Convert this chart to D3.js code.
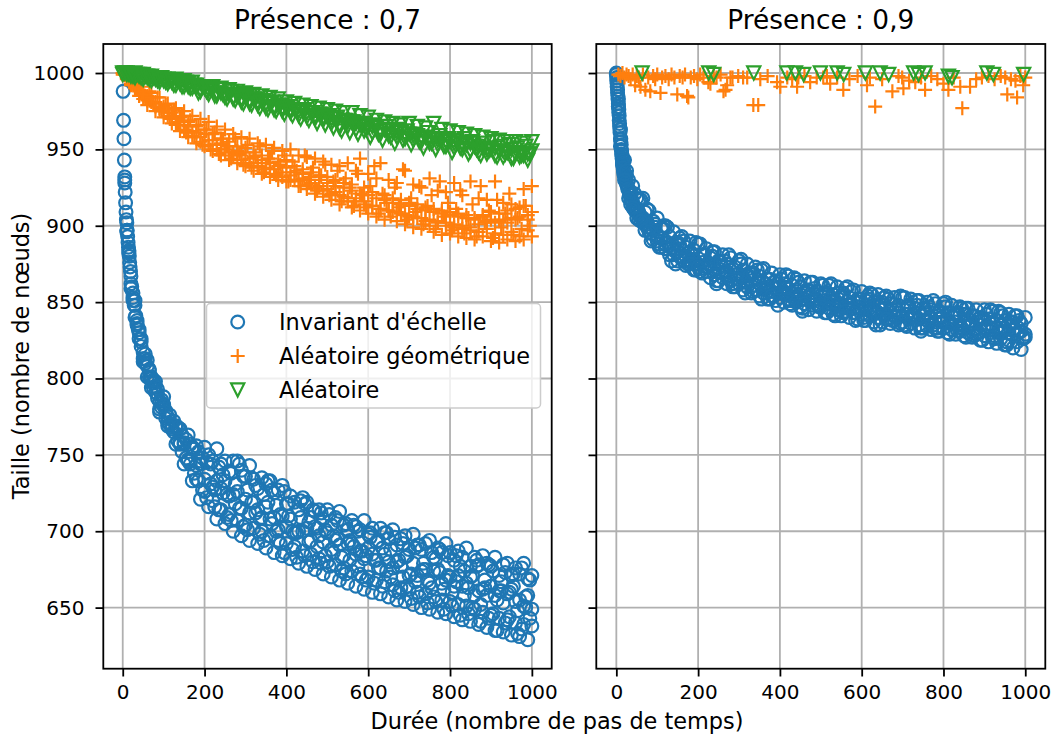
<!DOCTYPE html>
<html><head><meta charset="utf-8">
<script src="https://cdn.jsdelivr.net/npm/d3@7"></script>
<style>
body{margin:0;background:#fff}
svg{display:block}
text{font-family:"DejaVu Sans",sans-serif;fill:#000}
</style>
</head><body>
<svg id="chart" width="1054" height="740"></svg>
<script>
// ---------- data ----------
const steps = [0,10,20,30,40,50,60,70,80,90,100,110,120,130,140,150,160,170,180,190,200,210,220,230,240,250,260,270,280,290,300,310,320,330,340,350,360,370,380,390,400,410,420,430,440,450,460,470,480,490,500,510,520,530,540,550,560,570,580,590,600,610,620,630,640,650,660,670,680,690,700,710,720,730,740,750,760,770,780,790,800,810,820,830,840,850,860,870,880,890,900,910,920,930,940,950,960,970,980,990,1000];
const halfSteps = [5,15,25,35,45,55,65,75,85,95,105,115,125,135,145,155,165,175,185,195,205,215,225,235,245,255,265,275,285,295,305,315,325,335,345,355,365,375,385,395,405,415,425,435,445,455,465,475,485,495,505,515,525,535,545,555,565,575,585,595,605,615,625,635,645,655,665,675,685,695,705,715,725,735,745,755,765,775,785,795,805,815,825,835,845,855,865,875,885,895,905,915,925,935,945,955,965,975,985,995];
const seriesNames = ["Invariant d'échelle","Aléatoire géométrique","Aléatoire"];
const xTicks = [0,200,400,600,800,1000];
const yTicks = [650,700,750,800,850,900,950,1000];
const panelTitles = ["Présence : 0,7","Présence : 0,9"];

// Présence 0,7 — Invariant d'échelle
const leftScaleFreeEarlyT = [1,2,3,4,5,6,7,8,9,11,12,13,14,15,16,17,18,19,22,25,28,32,35,38,45,55,65,75,85,95];
const leftScaleFreeEarlyV = [988,969,957,943,932,922,915,909,904,897,893,889,886,883,880,876,873,870,860,853,848,841,836,832,824,813,805,797,790,784];
const leftScaleFreeA = [902,862,851,830,813,812,801,798,785,788,
775,767,769,767,757,763,755,756,746,755,
750,746,754,744,746,739,746,746,740,736,
743,734,728,735,731,733,725,727,730,718,
723,719,714,722,719,709,713,714,708,714,
704,709,713,704,701,707,703,701,707,698,
702,693,702,699,695,701,691,695,697,688,
698,691,688,692,694,683,689,686,692,686,
681,687,683,689,677,683,678,684,679,677,
683,671,678,679,671,676,672,679,669,671];
const leftScaleFreeB = [897,859,848,826,817,801,800,791,778,783,
771,768,768,757,758,747,754,743,744,734,
738,729,733,728,733,723,724,726,715,721,
712,719,714,709,716,708,709,701,710,703,
708,699,700,700,702,694,703,697,693,699,
688,694,691,684,692,692,685,687,682,689,
685,681,676,685,680,676,680,677,683,671,
679,671,674,675,666,674,675,666,668,670,
664,671,664,666,670,658,661,662,658,664,
658,661,653,659,662,654,655,651,658,649];
const leftScaleFreeC = [896,867,840,832,811,808,794,795,780,782,
769,770,757,758,744,746,733,734,721,726,
716,720,708,714,705,711,700,707,697,704,
694,702,692,700,689,697,686,694,684,692,
682,690,679,687,677,685,675,682,672,680,
670,678,668,676,666,674,664,672,662,670,
660,668,659,667,657,665,655,663,654,662,
652,660,650,659,649,657,647,655,646,654,
644,652,642,651,641,649,639,647,637,645,
635,643,634,642,632,640,631,639,629,638];
const leftScaleFreeD = [930,882,856,835,826,810,806,794,793,781,
779,770,772,759,763,748,757,738,752,727,
745,731,716,742,725,709,738,718,744,703,
727,735,712,698,724,733,705,717,692,726,
710,688,699,720,684,706,714,690,679,701,
711,686,695,674,705,681,690,700,670,684,
696,666,676,689,699,670,661,681,692,664,
672,689,657,679,668,686,654,673,662,684,
651,667,677,658,646,671,681,652,663,643,
674,655,667,640,660,672,648,636,657,668];
const leftScaleFreeE = [928,884,851,838,821,816,801,799,787,786,
774,776,765,768,752,760,744,754,733,748,
722,744,727,714,737,724,707,731,715,736,
701,719,730,708,694,719,727,700,711,686,
718,700,683,709,718,693,680,702,712,684,
677,697,707,683,672,694,704,677,687,668,
699,681,694,664,674,688,696,660,670,684,
656,667,691,675,653,663,682,688,649,671,
660,684,645,674,663,650,677,641,668,678,
646,635,661,673,644,664,633,676,650,643];

// Présence 0,7 — Aléatoire géométrique
const leftGeoA = [1000,999,995,994,989,991,985,987,981,984,
978,980,974,977,971,975,968,972,965,970,
963,968,960,965,957,963,955,960,952,958,
951,957,948,954,946,953,944,951,942,949,
943,950,939,946,937,945,935,944,933,942,
932,940,930,939,928,941,927,936,944,925,
934,922,931,941,920,930,918,928,917,936,
915,927,914,925,912,931,911,923,910,922,
909,928,908,920,907,929,905,918,906,917,
904,929,903,915,902,914,904,912,924,907,
926];
const leftGeoB = [999,996,992,990,985,983,979,981,975,977,
971,974,967,970,962,966,958,962,954,958,
952,956,949,953,946,950,943,948,941,946,
939,944,936,941,934,938,932,937,930,935,
929,933,930,926,931,924,928,921,926,919,
924,917,922,914,919,916,912,918,910,916,
908,913,906,911,904,910,909,903,908,901,
906,899,905,898,903,900,896,902,894,900,
895,899,893,898,892,897,891,896,893,898,
890,895,889,894,891,896,890,893,891,897,
893];
const leftGeoC = [1000,997,993,991,988,986,982,984,978,976,
975,972,971,966,968,963,965,959,961,955,
960,953,956,950,954,948,952,946,949,943,
948,941,945,939,943,937,941,934,939,932,
938,930,935,929,934,927,932,925,930,923,
928,921,926,920,925,918,923,916,921,914,
920,913,918,911,917,910,915,909,914,907,
913,906,911,905,910,904,909,903,908,902,
907,901,906,900,905,899,904,901,907,903,
909,902,908,904,910,905,911,906,913,904,
909];
const leftGeoD = [999,995,996,990,988,984,988,980,984,975,
979,970,976,966,972,961,969,958,966,953,
963,950,961,947,957,952,944,957,947,940,
953,938,946,952,935,944,949,933,940,946,
929,942,936,926,946,930,938,923,933,940,
920,929,936,916,931,925,913,934,920,912,
926,939,908,921,915,906,925,912,937,904,
918,909,926,901,913,920,898,929,906,915,
897,911,923,895,905,914,893,926,902,910,
892,917,899,908,921,894,905,898,913,900];

// Présence 0,7 — Aléatoire
const leftRandA = [1000,1000,999,1000,998,999,997,998,996,997,
995,996,994,996,993,995,991,994,990,988,
991,989,991,987,990,986,989,984,988,983,
987,982,986,981,985,980,984,978,983,977,
981,976,980,975,979,974,978,972,977,971,
976,970,975,964,974,968,974,967,972,966,
971,965,969,962,968,963,967,961,966,960,
967,959,965,958,964,957,967,956,963,955,
962,954,961,953,960,954,959,952,958,950,
957,951,956,949,955,950,955,948,954,947,
955];
const leftRandB = [999,999,998,997,999,996,998,995,997,994,
996,993,995,992,994,991,993,990,992,989,
990,986,989,985,987,984,986,983,985,981,
984,980,983,979,981,977,980,976,979,975,
977,974,976,972,975,971,974,970,973,969,
971,967,970,966,969,965,968,963,966,962,
965,961,964,960,963,959,962,958,961,957,
960,956,959,955,958,954,957,953,956,952,
955,951,954,950,953,949,952,948,951,947,
950,946,949,945,948,944,947,945,946,943,
949];
const leftRandC = [1000,999,998,999,997,998,996,997,995,997,
994,995,992,995,991,994,990,992,987,991,
988,990,985,989,986,983,988,982,986,980,
985,979,983,977,982,976,981,975,979,973,
978,972,976,970,976,969,974,967,973,966,
972,964,971,962,969,961,968,960,967,963,
958,966,960,956,965,958,954,963,956,962,
953,960,955,951,961,954,950,959,952,957,
948,956,951,957,947,955,950,946,954,949,
955,945,952,947,953,944,951,946,952,947];

// Présence 0,9 — Invariant d'échelle
const rightScaleFreeEarlyT = [0,1,2,3,4,5,6,7,8,9,11,12,13,14,15,16,17,18,19,22,25,28,32,35,38,45,55,65,75];
const rightScaleFreeEarlyA = [1000,997,993,989,985,980,976,972,967,963,955,950,947,944,941,939,937,935,933,930,927,924,921,918,916,911,907,903,899];
const rightScaleFreeEarlyB = [999,995,991,987,983,978,974,969,965,961,957,953,949,946,943,940,938,936,934,931,928,925,922,920,917,912,909,905,901];
const rightScaleFreeA = [963,943,930,926,918,917,909,910,903,905,
898,900,893,896,889,893,886,890,884,888,
881,885,879,883,877,881,875,879,873,877,
871,875,869,873,867,872,865,869,864,868,
862,867,861,865,860,864,858,863,857,862,
856,861,855,860,854,859,853,858,852,857,
851,856,850,855,850,854,849,853,848,853,
847,852,846,851,846,850,845,849,844,849,
843,848,842,847,842,846,841,845,840,845,
839,844,838,843,838,842,837,841,836,840];
const rightScaleFreeB = [957,934,924,915,911,906,903,899,897,893,
892,888,887,884,883,880,880,877,878,875,
876,873,874,871,872,869,870,867,868,865,
866,863,864,861,862,859,860,857,859,856,
857,855,856,853,855,852,853,851,852,850,
851,849,850,848,849,847,848,846,847,845,
846,844,845,843,845,842,844,841,843,841,
842,840,841,839,841,838,840,837,839,837,
838,836,837,835,837,834,836,833,835,833,
834,832,833,831,833,830,832,829,831,829];
const rightScaleFreeC = [952,930,918,912,905,903,897,896,891,890,
886,885,881,881,877,878,874,875,871,873,
869,870,866,868,864,866,862,864,860,862,
858,860,856,858,854,856,852,854,851,853,
850,852,848,850,847,849,845,848,844,847,
843,846,842,845,841,844,840,843,839,842,
838,841,837,840,837,839,836,838,835,837,
834,836,833,835,833,834,832,833,831,833,
830,832,829,831,828,830,827,829,825,828,
824,827,823,826,822,825,820,824,819,827];
const rightScaleFreeD = [978,944,933,914,921,904,918,903,895,901,
886,900,889,877,889,892,877,882,876,889,
870,881,873,883,862,874,877,865,860,868,
878,863,869,857,871,852,862,865,854,862,
856,868,849,852,863,844,856,863,852,847,
856,843,862,851,845,856,846,857,838,850,
840,852,855,844,835,848,852,838,845,836,
853,839,842,848,833,845,840,851,833,837,
847,829,840,843,833,846,835,828,839,825,
842,836,828,844,831,824,837,832,838,827];
const rightScaleFreeE = [983,941,936,922,910,917,904,911,890,899,
888,898,899,886,875,887,890,875,881,871,
888,872,875,880,864,876,870,881,862,865,
875,856,867,869,858,871,859,852,863,848,
865,859,851,866,853,846,858,854,859,848,
861,849,853,841,856,843,860,849,843,852,
838,854,845,835,849,853,839,845,840,854,
835,848,840,851,831,843,847,835,831,840,
850,836,842,831,846,827,838,841,830,839,
833,845,826,830,841,822,835,841,831,826];

// Présence 0,9 — Aléatoire géométrique
const rightGeoT = [5,10,15,20,25,30,35,40,46,50,55,59,65,71,78,83,90,95,100,108,112,120,128,135,142,149,155,162,168,173,176,182,190,198,205,213,225,230,238,245,255,262,267,271,279,284,298,310,320,335,347,352,370,393,401,418,430,442,445,460,474,490,506,515,523,540,555,570,590,613,620,633,650,675,690,699,702,716,731,745,755,770,785,800,812,825,841,846,865,880,894,910,925,940,951,956,965,976,980,988,995,1000];
const rightGeoV = [999,998,1000,997,999,998,996,999,992,998,997,991,999,989,997,988,998,996,999,987,997,998,996,999,997,986,998,997,999,985,984,997,998,996,999,997,994,993,998,997,999,988,989,992,997,997,998,997,997,979,979,996,998,994,991,997,996,991,997,998,994,997,997,998,993,997,989,996,998,992,997,978,996,988,998,997,990,995,994,997,989,998,996,993,989,997,991,977,991,996,997,998,996,998,997,986,996,995,984,998,992,997];

// Présence 0,9 — Aléatoire
const rightRandT = [63,226,238,336,417,438,458,499,540,556,609,645,666,727,739,755,812,821,906,922,996];
const rightRandV = [1000,1000,999,1000,1000,1000,999,1000,1000,999,1000,1000,999,1000,999,1000,998,997,1000,999,999];

// ---------- helpers ----------
const zip = (ts, vs) => vs.map((v, i) => ({t: ts[i], v}));
const stepsFrom10 = steps.slice(1);

const colors = ["#1f77b4", "#ff7f0e", "#2ca02c"];
const shapes = ["circle", "plus", "triangle"];

const panelsData = [
  [
    [].concat(zip(leftScaleFreeEarlyT, leftScaleFreeEarlyV), zip(stepsFrom10, leftScaleFreeA), zip(halfSteps, leftScaleFreeD),
              zip(stepsFrom10, leftScaleFreeB), zip(halfSteps, leftScaleFreeE), zip(stepsFrom10, leftScaleFreeC)),
    [].concat(zip(steps, leftGeoA), zip(halfSteps, leftGeoD), zip(steps, leftGeoB), zip(steps, leftGeoC)),
    [].concat(zip(steps, leftRandA), zip(halfSteps, leftRandC), zip(steps, leftRandB))
  ],
  [
    [].concat(zip(rightScaleFreeEarlyT, rightScaleFreeEarlyA), zip(rightScaleFreeEarlyT, rightScaleFreeEarlyB),
              zip(stepsFrom10, rightScaleFreeA), zip(halfSteps, rightScaleFreeD), zip(stepsFrom10, rightScaleFreeB),
              zip(halfSteps, rightScaleFreeE), zip(stepsFrom10, rightScaleFreeC)),
    zip(rightGeoT, rightGeoV),
    zip(rightRandT, rightRandV)
  ]
];

// ---------- layout ----------
const svg = d3.select("#chart");
const axTop = 44, axBottom = 668.7;
const y = d3.scaleLinear().domain([610, 1019]).range([axBottom, axTop]);
const xScales = [
  d3.scaleLinear().domain([-47.5, 1048.5]).range([103.3, 551.7]),
  d3.scaleLinear().domain([-49, 1049]).range([596.3, 1045.3])
];

const SW = 2.2;
function drawMarker(g, shape, color, cx, cy) {
  if (shape === "circle") {
    g.append("circle").attr("cx", cx).attr("cy", cy).attr("r", 6.4)
      .attr("fill", "none").attr("stroke", color).attr("stroke-width", SW);
  } else if (shape === "plus") {
    const r = 7;
    g.append("path").attr("d", `M${cx - r},${cy}H${cx + r}M${cx},${cy - r}V${cy + r}`)
      .attr("fill", "none").attr("stroke", color).attr("stroke-width", SW);
  } else {
    const r = 6.6;
    g.append("path").attr("d", `M${cx - r},${cy - r}L${cx + r},${cy - r}L${cx},${cy + r}Z`)
      .attr("fill", "none").attr("stroke", color).attr("stroke-width", SW)
      .attr("stroke-linejoin", "miter");
  }
}

xScales.forEach((x, p) => {
  const [x0, x1] = x.range();
  const g = svg.append("g");
  const clipId = "clip" + p;
  svg.append("clipPath").attr("id", clipId).append("rect")
    .attr("x", x0).attr("y", axTop).attr("width", x1 - x0).attr("height", axBottom - axTop);

  // grid
  const grid = g.append("g").attr("stroke", "#b0b0b0").attr("stroke-width", 1.8);
  grid.selectAll("line.v").data(xTicks).join("line").attr("class", "v")
    .attr("x1", d => x(d)).attr("x2", d => x(d)).attr("y1", axTop).attr("y2", axBottom);
  grid.selectAll("line.h").data(yTicks).join("line").attr("class", "h")
    .attr("x1", x0).attr("x2", x1).attr("y1", d => y(d)).attr("y2", d => y(d));

  // data
  const dg = g.append("g").attr("clip-path", `url(#${clipId})`);
  panelsData[p].forEach((pts, s) => {
    const sg = dg.append("g");
    pts.forEach(d => drawMarker(sg, shapes[s], colors[s], x(d.t), y(d.v)));
  });

  // frame
  g.append("rect").attr("x", x0).attr("y", axTop).attr("width", x1 - x0).attr("height", axBottom - axTop)
    .attr("fill", "none").attr("stroke", "#000").attr("stroke-width", 1.8);

  // axes
  const xa = g.append("g").attr("transform", `translate(0,${axBottom})`)
    .call(d3.axisBottom(x).tickValues(xTicks).tickSize(7.8).tickPadding(8).tickFormat(d3.format("d")));
  const ya = g.append("g").attr("transform", `translate(${x0},0)`)
    .call(d3.axisLeft(y).tickValues(yTicks).tickSize(7.8).tickPadding(11)
      .tickFormat(p === 0 ? d3.format("d") : () => ""));
  [xa, ya].forEach(a => {
    a.select(".domain").remove();
    a.selectAll(".tick line").attr("stroke", "#000").attr("stroke-width", 1.8);
    a.selectAll(".tick text").attr("font-size", 20).attr("font-family", "DejaVu Sans");
  });

  // title
  g.append("text").attr("x", (x0 + x1) / 2).attr("y", 29).attr("text-anchor", "middle")
    .attr("font-size", 26.4).text(panelTitles[p]);
});

// axis labels
svg.append("text").attr("x", 557).attr("y", 729).attr("text-anchor", "middle")
  .attr("font-size", 22.4).text("Durée (nombre de pas de temps)");
svg.append("text").attr("transform", "translate(29,356) rotate(-90)").attr("text-anchor", "middle")
  .attr("font-size", 22.4).text("Taille (nombre de nœuds)");

// legend
const lg = svg.append("g");
lg.append("rect").attr("x", 206.5).attr("y", 303.5).attr("width", 334).attr("height", 104.5)
  .attr("rx", 4).attr("fill", "#fff").attr("fill-opacity", 0.8)
  .attr("stroke", "#cccccc").attr("stroke-width", 1.5);
const rowsY = [322, 356, 390];
seriesNames.forEach((name, i) => {
  drawMarker(lg, shapes[i], colors[i], 237.7, rowsY[i]);
  lg.append("text").attr("x", 279).attr("y", rowsY[i] + 8).attr("font-size", 22.4).text(name);
});
</script>
</body></html>
